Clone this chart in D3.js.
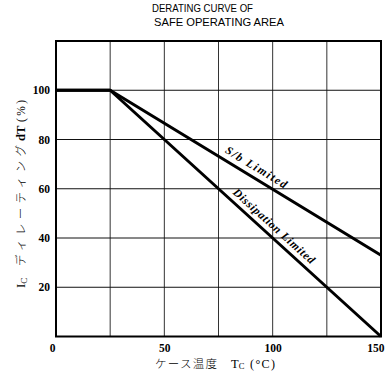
<!DOCTYPE html>
<html>
<head>
<meta charset="utf-8">
<script src="https://cdn.jsdelivr.net/npm/d3@7"></script>
<style>
  html, body { margin: 0; padding: 0; background: #fff; }
  svg { display: block; }
  .tick text { font-family: "Liberation Serif", serif; font-weight: bold; font-size: 11.5px; fill: #000; }
</style>
</head>
<body>
<svg id="chart" width="391" height="381"></svg>
<script>
// Case temperature (°C) breakpoints and derating (%) for each limit
const temps = [0, 25, 150];
const sbLimited = [100, 100, 33];
const dissipationLimited = [100, 100, 0];

const xTicks = [0, 50, 100, 150];
const xGrid = [25, 50, 75, 100, 125];
const yTicks = [20, 40, 60, 80, 100];
const yGrid = [20, 40, 60, 80, 100];

const titleLines = ["DERATING CURVE OF", "SAFE OPERATING AREA"];
const seriesLabels = ["S/b Limited", "Dissipation Limited"];

const svg = d3.select("#chart");
const plotL = 56, plotR = 381, plotT = 41, plotB = 336.5;

const x = d3.scaleLinear().domain([0, 150]).range([plotL, plotR]);
const y = d3.scaleLinear().domain([0, 120]).range([plotB, plotT]);

const JP = "Noto Sans CJK JP";
const SERIF = "Liberation Serif, serif";

// Title
const titleLayout = [{ x: 152, y: 11.5, w: 101 }, { x: 154, y: 26, w: 130 }];
svg.append("g").selectAll("text").data(titleLines).join("text")
  .attr("x", (d, i) => titleLayout[i].x)
  .attr("y", (d, i) => titleLayout[i].y)
  .attr("textLength", (d, i) => titleLayout[i].w)
  .attr("lengthAdjust", "spacingAndGlyphs")
  .attr("font-family", "Liberation Sans, Arial, sans-serif")
  .attr("font-size", 10.5)
  .attr("fill", "#000")
  .text(d => d);

// Grid lines
const grid = svg.append("g");
grid.selectAll("line.v").data(xGrid).join("line")
  .attr("class", "v")
  .attr("x1", d => x(d)).attr("x2", d => x(d))
  .attr("y1", plotT).attr("y2", plotB)
  .attr("stroke", "#333").attr("stroke-width", 1);
grid.selectAll("line.h").data(yGrid).join("line")
  .attr("class", "h")
  .attr("x1", plotL).attr("x2", plotR)
  .attr("y1", d => y(d)).attr("y2", d => y(d))
  .attr("stroke", "#111").attr("stroke-width", 1);

// Frame
svg.append("rect")
  .attr("x", plotL).attr("y", plotT)
  .attr("width", plotR - plotL).attr("height", plotB - plotT)
  .attr("fill", "none").attr("stroke", "#000").attr("stroke-width", 2);

// Axes (labels only; the frame draws the axis lines)
const yAxis = svg.append("g")
  .attr("transform", `translate(${plotL},0)`)
  .call(d3.axisLeft(y).tickValues(yTicks).tickSize(0).tickPadding(6));
yAxis.select(".domain").remove();

const xAxis = svg.append("g")
  .attr("transform", `translate(0,${plotB})`)
  .call(d3.axisBottom(x).tickValues(xTicks).tickSize(0).tickPadding(7));
xAxis.select(".domain").remove();
xAxis.selectAll(".tick text")
  .attr("text-anchor", d => d === 150 ? "end" : "middle")
  .attr("dx", d => d === 150 ? 3 : (d === 0 ? -4 : 0));

// Derating curves
const line = d3.line().x(d => x(d[0])).y(d => y(d[1]));
[sbLimited, dissipationLimited].forEach(vals => {
  svg.append("path")
    .datum(temps.map((t, i) => [t, vals[i]]))
    .attr("d", line)
    .attr("fill", "none")
    .attr("stroke", "#000")
    .attr("stroke-width", 3)
    .attr("stroke-linejoin", "round");
});

// Curve labels, set along each line
function angleOf(vals) {
  const dx = x(temps[2]) - x(temps[1]);
  const dy = y(vals[2]) - y(vals[1]);
  return Math.atan2(dy, dx) * 180 / Math.PI;
}
const labelPos = [
  { t: 90, off: -6.5, len: 70, vals: sbLimited },
  { t: 97.6, off: -6, len: 106, vals: dissipationLimited }
];
labelPos.forEach((p, i) => {
  const v = p.vals[1] + (p.vals[2] - p.vals[1]) * (p.t - temps[1]) / (temps[2] - temps[1]);
  const a = angleOf(p.vals);
  svg.append("text")
    .attr("transform", `translate(${x(p.t)},${y(v)}) rotate(${a}) translate(0,${p.off})`)
    .attr("text-anchor", "middle")
    .attr("textLength", p.len)
    .attr("lengthAdjust", "spacing")
    .attr("font-family", SERIF)
    .attr("font-weight", "bold")
    .attr("font-style", "italic")
    .attr("font-size", 11.5)
    .attr("fill", "#000")
    .text(seriesLabels[i]);
});

// Y axis title (rotated; x runs upward along the axis)
const yTitle = svg.append("g").attr("transform", "translate(25,0) rotate(-90)");
yTitle.append("text").attr("x", -288).attr("y", 0)
  .attr("font-family", SERIF).attr("font-size", 13).text("I")
  .append("tspan").attr("font-size", 9).attr("dy", 1.5).text("C");
yTitle.append("text").attr("x", -266).attr("y", 0)
  .attr("textLength", 121).attr("lengthAdjust", "spacing")
  .attr("font-family", JP).attr("font-weight", 300).attr("font-size", 11.5)
  .text("ディレーティング");
yTitle.append("text").attr("x", -141).attr("y", 0)
  .attr("font-family", SERIF).attr("font-weight", "bold").attr("font-size", 12.5)
  .text("dT");
yTitle.append("text").attr("x", -122).attr("y", 0)
  .attr("textLength", 22).attr("lengthAdjust", "spacing")
  .attr("font-family", SERIF).attr("font-size", 11.5)
  .text("(%)");

// X axis title
const xTitle = svg.append("g");
xTitle.append("text").attr("x", 155).attr("y", 368)
  .attr("textLength", 62).attr("lengthAdjust", "spacing")
  .attr("font-family", JP).attr("font-weight", 300).attr("font-size", 11.5)
  .text("ケース温度");
xTitle.append("text").attr("x", 231).attr("y", 368)
  .attr("font-family", SERIF).attr("font-size", 12.5).text("T")
  .append("tspan").attr("font-size", 8.5).attr("dy", 0.5).text("C");
xTitle.append("text").attr("x", 250).attr("y", 368)
  .attr("textLength", 25).attr("lengthAdjust", "spacing")
  .attr("font-family", SERIF).attr("font-size", 12)
  .text("(°C)");
</script>
</body>
</html>
